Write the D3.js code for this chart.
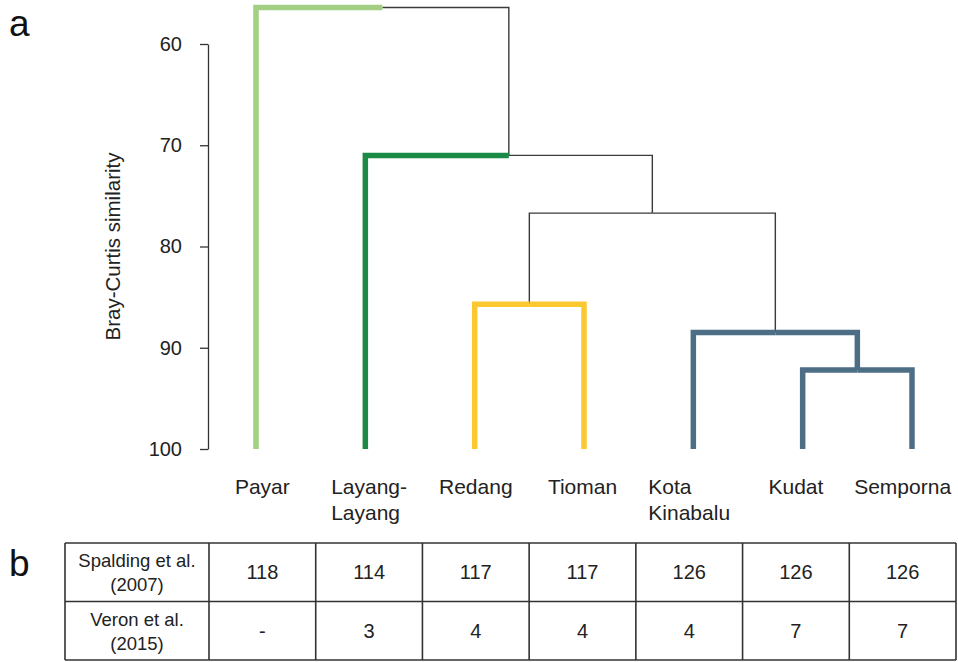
<!DOCTYPE html>
<html>
<head>
<meta charset="utf-8">
<script src="https://cdn.jsdelivr.net/npm/d3@7"></script>
<style>
  html, body { margin: 0; padding: 0; background: #fff; }
  svg { display: block; font-family: "Liberation Sans", Arial, sans-serif; }
</style>
</head>
<body>
<svg id="chart" width="958" height="662"></svg>
<script>
// ---------- DATA ----------
const leaves = ["Payar", "Layang-Layang", "Redang", "Tioman", "Kota Kinabalu", "Kudat", "Semporna"];
const leafLabels = [["Payar"], ["Layang-", "Layang"], ["Redang"], ["Tioman"], ["Kota", "Kinabalu"], ["Kudat"], ["Semporna"]];
const leafGroups = ["payar", "layang", "south", "south", "borneo", "borneo", "borneo"];
// merges (like hclust): negative = leaf index (1-based), positive = earlier merge (1-based)
const mergeLeft  = [-6, -5, -3, 3, -2, -1];
const mergeRight = [-7,  1, -4, 2,  4,  5];
const mergeHeights = [92.2, 88.5, 85.7, 76.7, 71.0, 56.4];
const yTicks = [60, 70, 80, 90, 100];
const groupColors = { payar: "#a2cf84", layang: "#1a8a45", south: "#fcc832", borneo: "#4e6e86" };

const rowLabels = [["Spalding et al.", "(2007)"], ["Veron et al.", "(2015)"]];
const spalding = ["118", "114", "117", "117", "126", "126", "126"];
const veron = ["-", "3", "4", "4", "4", "7", "7"];

// ---------- SCALES ----------
const svg = d3.select("#chart");
const y = d3.scaleLinear().domain([60, 100]).range([44, 449]);
const xLeaf = d3.scalePoint().domain(leaves).range([256, 912]);
const xCol = d3.scaleBand().domain(leaves).range([209, 956]);

// ---------- BUILD TREE ----------
const nodes = [];
leaves.forEach((name, i) => nodes.push({ id: "L" + i, name, x: xLeaf(name), h: 100, group: leafGroups[i], leaf: true }));
const merged = [];
function ref(v) { return v < 0 ? nodes[-v - 1] : merged[v - 1]; }
mergeHeights.forEach((h, i) => {
  const a = ref(mergeLeft[i]), b = ref(mergeRight[i]);
  const node = { id: "M" + i, x: (a.x + b.x) / 2, h, children: [a, b] };
  node.group = (a.group && a.group === b.group) ? a.group : null;
  a.parent = node; b.parent = node;
  merged.push(node);
});
const all = nodes.concat(merged);

// ---------- DENDROGRAM ----------
const g = svg.append("g");
const links = all.filter(n => n.parent).map(n => {
  const colored = n.leaf || (n.group && n.parent.group === n.group);
  return { n, colored };
});
links.sort((a, b) => a.colored - b.colored);
g.selectAll("path.link").data(links).join("path")
  .attr("class", "link")
  .attr("fill", "none")
  .attr("d", d => `M${d.n.x},${y(d.n.h)}V${y(d.n.parent.h)}H${d.n.parent.x}`)
  .attr("stroke", d => d.colored ? groupColors[d.n.group] : "#3a3a3a")
  .attr("stroke-width", d => d.colored ? 5.5 : 1.4)
  .attr("stroke-linejoin", "miter")
  .attr("stroke-linecap", "butt");

// ---------- Y AXIS ----------
const axis = d3.axisLeft(y).tickValues(yTicks).tickSize(8).tickPadding(18).tickSizeOuter(0);
const ag = svg.append("g").attr("transform", "translate(208,0)").call(axis);
ag.select(".domain").attr("stroke", "#333").attr("stroke-width", 1.3);
ag.selectAll(".tick line").attr("stroke", "#333").attr("stroke-width", 1.3);
ag.selectAll(".tick text").attr("font-size", 20).attr("fill", "#222")
  .attr("font-family", "Liberation Sans, Arial, sans-serif");

svg.append("text")
  .attr("transform", `translate(120,${(y(60) + y(100)) / 2}) rotate(-90)`)
  .attr("text-anchor", "middle")
  .attr("font-size", 20.5).attr("fill", "#222")
  .text("Bray-Curtis similarity");

// ---------- LEAF LABELS ----------
const lbl = svg.append("g").attr("font-size", 21).attr("fill", "#222");
leafLabels.forEach((lines, i) => {
  const t = lbl.append("text").attr("y", 494);
  lines.forEach((s, j) => t.append("tspan").attr("y", 494 + j * 26).text(s));
  const w = d3.max(t.selectAll("tspan").nodes(), n => n.getComputedTextLength());
  const cx = xCol(leaves[i]) + xCol.bandwidth() / 2;
  t.selectAll("tspan").attr("x", cx - w / 2);
});

// ---------- PANEL LETTERS ----------
svg.append("text").attr("x", 9).attr("y", 36).attr("font-size", 37).attr("fill", "#111").text("a");
svg.append("text").attr("x", 9).attr("y", 576).attr("font-size", 37).attr("fill", "#111").text("b");

// ---------- TABLE ----------
const rowY = d3.scaleBand().domain([0, 1]).range([543, 660]);
const tg = svg.append("g");
const tableLeft = 65, tableRight = 956;
const tableVals = [spalding, veron];
const colEdges = [tableLeft].concat(leaves.map(l => xCol(l))).concat([tableRight]);
tg.selectAll("line.v").data(colEdges).join("line")
  .attr("x1", d => d).attr("x2", d => d)
  .attr("y1", rowY.range()[0]).attr("y2", rowY.range()[1])
  .attr("stroke", "#333").attr("stroke-width", 1.6);
const rowEdges = [543, rowY(1), 660];
tg.selectAll("line.h").data(rowEdges).join("line")
  .attr("x1", tableLeft).attr("x2", tableRight)
  .attr("y1", d => d).attr("y2", d => d)
  .attr("stroke", "#333").attr("stroke-width", 1.6);

rowLabels.forEach((lines, r) => {
  const cy = rowY(r) + rowY.bandwidth() / 2;
  const t = tg.append("text").attr("text-anchor", "middle").attr("font-size", 18.5).attr("fill", "#222");
  lines.forEach((s, j) => t.append("tspan").attr("x", (tableLeft + xCol.range()[0]) / 2)
    .attr("y", cy - 5 + j * 24).text(s));
  tg.selectAll(null).data(tableVals[r]).join("text")
    .attr("x", (d, i) => xCol(leaves[i]) + xCol.bandwidth() / 2)
    .attr("y", cy + 7)
    .attr("text-anchor", "middle")
    .attr("font-size", 20).attr("fill", "#222")
    .text(d => d);
});
</script>
</body>
</html>
